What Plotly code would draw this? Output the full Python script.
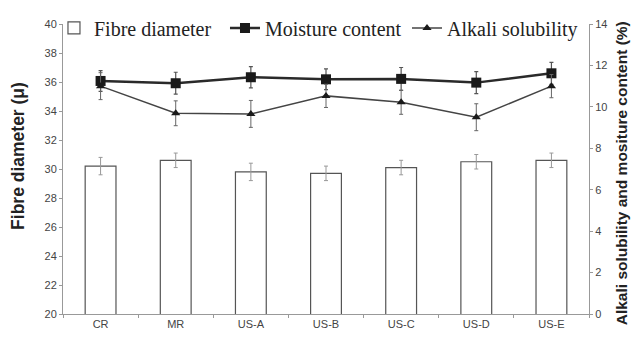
import plotly.graph_objects as go

categories = ["CR", "MR", "US-A", "US-B", "US-C", "US-D", "US-E"]
fibre_diameter = [30.2, 30.6, 29.8, 29.7, 30.1, 30.5, 30.6]
fibre_err = [0.6, 0.5, 0.6, 0.5, 0.5, 0.5, 0.5]
moisture = [11.25, 11.14, 11.43, 11.33, 11.35, 11.17, 11.62]
moisture_err = [0.5, 0.53, 0.51, 0.5, 0.55, 0.53, 0.53]
alkali = [11.0, 9.69, 9.66, 10.53, 10.22, 9.5, 11.0]
alkali_err = [0.65, 0.6, 0.65, 0.56, 0.58, 0.65, 0.56]

fig = go.Figure()
fig.add_trace(go.Bar(
    x=categories, y=fibre_diameter, name="Fibre diameter", width=0.41,
    marker=dict(color="white", line=dict(color="#555", width=1.2)),
    error_y=dict(type="data", array=fibre_err, color="#999", thickness=1, width=2),
    yaxis="y", legend="legend"))
fig.add_trace(go.Scatter(
    x=categories, y=moisture, name="Moisture content", mode="lines+markers",
    line=dict(color="#2a2a2a", width=2.5),
    marker=dict(symbol="square", size=10, color="#1a1a1a"),
    error_y=dict(type="data", array=moisture_err, color="#555", thickness=1.2, width=2),
    yaxis="y2", legend="legend2"))
fig.add_trace(go.Scatter(
    x=categories, y=alkali, name="Alkali solubility", mode="lines+markers",
    line=dict(color="#444", width=1.5),
    marker=dict(symbol="triangle-up", size=8, color="#1a1a1a"),
    error_y=dict(type="data", array=alkali_err, color="#666", thickness=1, width=2),
    yaxis="y2", legend="legend3"))

axis_font = dict(family="Liberation Sans, Arial", size=11, color="#444")
title_font = dict(family="Liberation Sans, Arial", color="#222", weight="bold")
legend_font = dict(family="Liberation Serif, Times New Roman", size=20, color="#222")


def leg(x):
    return dict(orientation="h", x=x, y=0.918, xref="container", yref="container",
                yanchor="middle", xanchor="left",
                bgcolor="rgba(0,0,0,0)", font=legend_font, itemwidth=30)


fig.update_layout(
    width=632, height=341,
    margin=dict(l=63, r=43, t=24, b=27, autoexpand=False),
    paper_bgcolor="white", plot_bgcolor="white",
    showlegend=True,
    legend=leg(0.0854),
    legend2=leg(0.356),
    legend3=leg(0.644),
    xaxis=dict(range=[-0.5, 6.5], showline=True, linecolor="#999", linewidth=1,
               ticks="outside", tickson="boundaries", ticklen=3, tickcolor="#999",
               tickfont=axis_font, showgrid=False, zeroline=False, automargin=False),
    yaxis=dict(range=[20, 40], dtick=2, showline=True, linecolor="#999", linewidth=1,
               ticks="outside", ticklen=3, tickcolor="#999", tickfont=axis_font,
               showgrid=False, zeroline=False, automargin=False),
    yaxis2=dict(range=[0, 14], dtick=2, overlaying="y", side="right", showline=True,
                linecolor="#999", linewidth=1, ticks="outside", ticklen=3, tickcolor="#999",
                tickfont=axis_font, showgrid=False, zeroline=False, automargin=False),
    annotations=[
        dict(text="Fibre diameter (μ)", xref="paper", yref="paper", x=-0.0856, y=0.545,
             xanchor="center", yanchor="middle", textangle=-90, showarrow=False,
             font=dict(size=17.5, **title_font)),
        dict(text="Alkali solubility and mositure content (%)", xref="paper", yref="paper",
             x=1.062, y=0.484, xanchor="center", yanchor="middle", textangle=-90,
             showarrow=False, font=dict(size=15.5, **title_font)),
    ],
)
fig.write_html("out.html", config={"displayModeBar": False},
               post_script="document.body.style.margin='0';document.body.style.padding='0';"
                           "document.body.style.overflow='hidden';")
